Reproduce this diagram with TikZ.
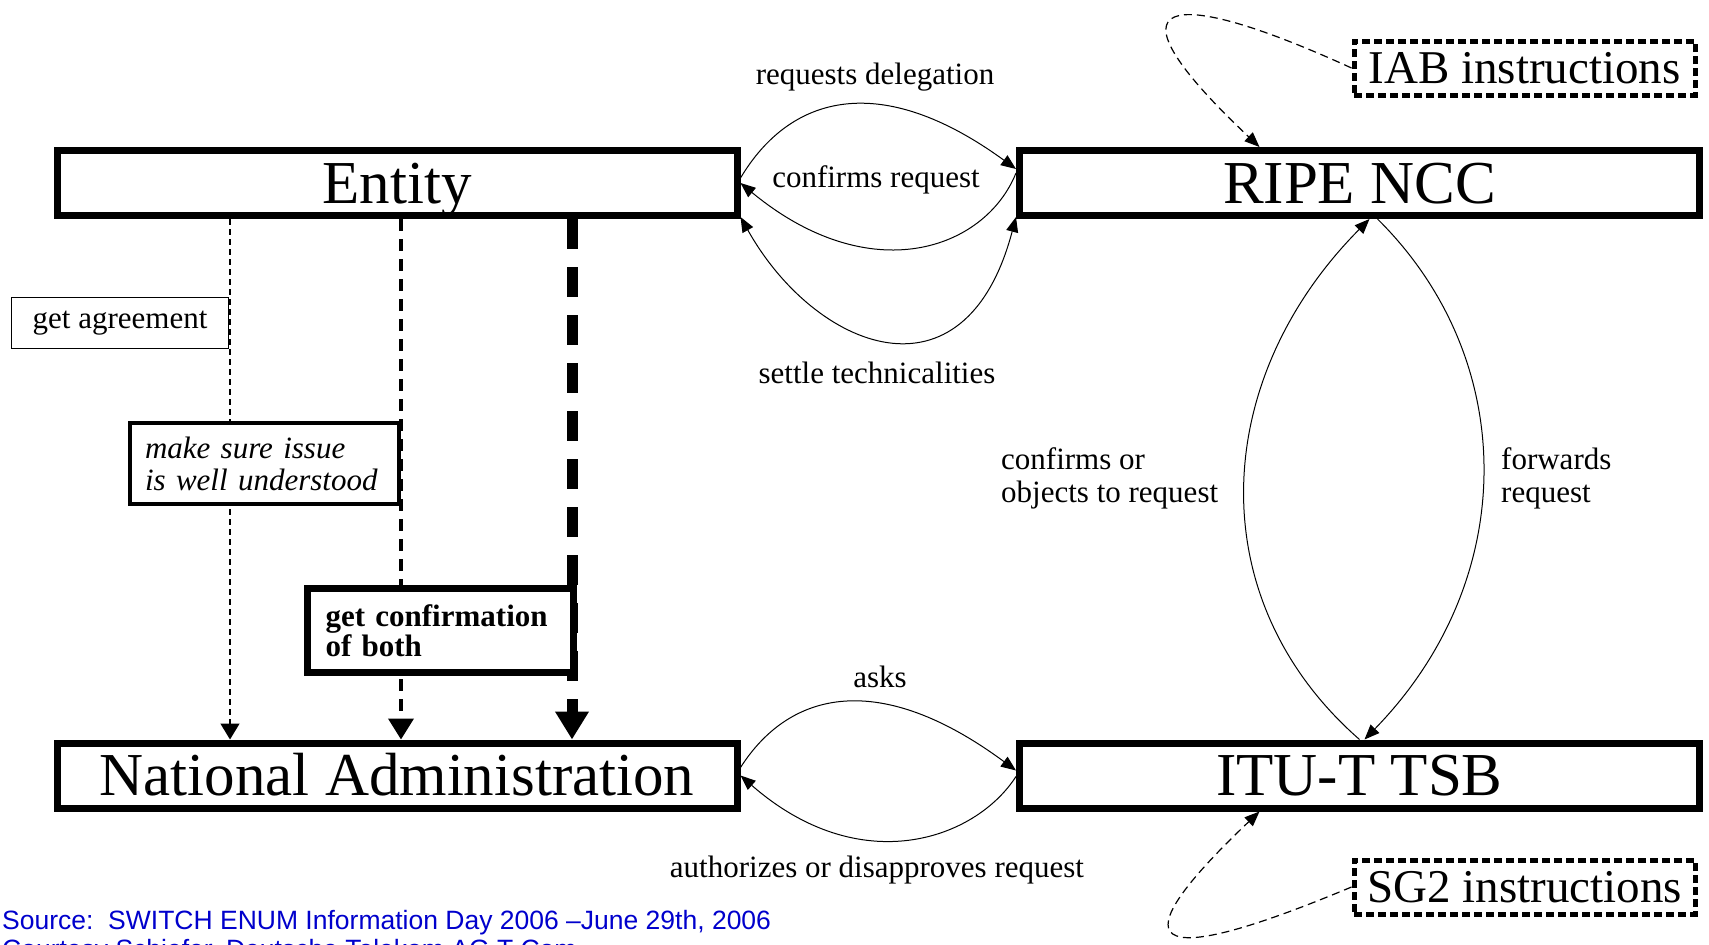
\documentclass[tikz,border=0pt]{standalone}
\usepackage{fontspec}
\setmainfont{Liberation Serif}
\newfontfamily\footfont{Liberation Sans}
\usetikzlibrary{arrows.meta,calc}
\definecolor{footblue}{RGB}{0,0,204}
\tikzset{
  bigbox/.style={draw, fill=white, line width=7pt, minimum width=680pt, minimum height=65pt, inner sep=0pt, text height=49pt, text depth=9pt, font=\fontsize{61}{66}\selectfont},
  lbl/.style={font=\fontsize{31}{33}\selectfont, inner sep=0pt},
  flow/.style={line width=1pt, -{Triangle[length=15pt,width=12pt]}},
  twoflow/.style={line width=1pt, {Triangle[length=15pt,width=12pt]}-{Triangle[length=15pt,width=12pt]}},
  instrline/.style={line width=1.2pt, dash pattern=on 8pt off 5pt, -{Triangle[length=15pt,width=12pt]}},
  instr/.style={draw, fill=white, line width=5pt, dash pattern=on 8pt off 4pt, minimum width=341pt, minimum height=54pt, inner sep=0pt, font=\fontsize{47}{50}\selectfont},
  thinstep/.style={line width=1.5pt, dash pattern=on 6pt off 4pt, -{Triangle[length=16pt,width=19pt]}},
  midstep/.style={line width=4pt, dash pattern=on 12pt off 8pt, -{Triangle[length=21pt,width=25pt]}},
  thickstep/.style={line width=11pt, dash pattern=on 30pt off 18pt, -{Triangle[length=28pt,width=32pt]}},
}
\begin{document}
\begin{tikzpicture}[x=1pt,y=-1pt]
\useasboundingbox (0,0) rectangle (1709,945);
\clip (0,0) rectangle (1709,945);
% main boxes
\node[bigbox] (entity) at (397,183) {Entity};
\node[bigbox] (ripe) at (1359.5,183) {RIPE NCC};
\node[bigbox] (natadmin) at (397,775.5) {National Administration};
\node[bigbox] (itu) at (1359.5,775.5) {ITU-T TSB};
% instruction boxes
\node[instr] (iab) at (1524.5,68) {IAB instructions};
\node[instr] (sg2) at (1524.5,887) {SG2 instructions};
% dashed steps
\coordinate (xthin) at (230,0);
\coordinate (xmid) at (401,0);
\coordinate (xthick) at (572,0);
\draw[thinstep] (entity.south -| xthin) -- (natadmin.north -| xthin);
\draw[midstep] (entity.south -| xmid) -- (natadmin.north -| xmid);
\draw[thickstep] (entity.south -| xthick) -- (natadmin.north -| xthick);
\node[draw, fill=white, line width=1.5pt, minimum width=217pt, minimum height=51pt, font=\fontsize{31}{33}\selectfont] (agree) at (120,323) {get agreement};
\node[draw, fill=white, line width=4pt, minimum height=81pt, text width=239pt, inner xsep=15pt, align=left, font=\fontsize{31}{32}\selectfont\itshape] (sure) at (264.5,463.5) {\mbox{make sure issue}\\\mbox{is well understood}};
\node[draw, fill=white, line width=7pt, minimum height=84pt, text width=230pt, inner xsep=18pt, align=left, font=\fontsize{31}{30}\selectfont\bfseries] (conf) at (440.5,630.5) {\mbox{get confirmation}\\\mbox{of both}};
% entity <-> ripe
\draw[flow] ([yshift=5pt]entity.east) .. controls (790,95) and (880,70) .. ([yshift=14pt]ripe.west);
\draw[flow] ([yshift=10pt]ripe.west) .. controls (985,250) and (870,290) .. (entity.east);
\draw[twoflow] ([yshift=2pt]entity.south east) .. controls (815,350) and (965,410) .. ([yshift=2pt]ripe.south west);
\node[lbl] (reqdel) at (875,77) {requests delegation};
\node[lbl] (confreq) at (876,180) {confirms request};
\node[lbl] (settle) at (877,373) {settle technicalities};
% ripe <-> itu
\draw[flow] (itu.north) .. controls (1200,600) and (1210,380) .. ([xshift=10pt]ripe.south);
\draw[flow] ([xshift=18pt]ripe.south) .. controls (1520,360) and (1520,580) .. ([xshift=5pt]itu.north);
\node[lbl, align=left, anchor=west] (confobj) at (1001,478) {confirms or\\objects to request};
\node[lbl, align=left, anchor=west] (fwd) at (1501,478) {forwards\\request};
% natadmin <-> itu
\draw[flow] ([yshift=8pt]natadmin.east) .. controls (790,690) and (880,670) .. ([yshift=5pt]itu.west);
\draw[flow] ([yshift=-1pt]itu.west) .. controls (975,840) and (860,880) .. (natadmin.east);
\node[lbl] (asks) at (880,677) {asks};
\node[lbl] (auth) at (877,870) {authorizes or disapproves request};
% instructions
\draw[instrline] (iab.west) .. controls (1170,-15) and (1095,-8) .. ([xshift=-100pt]ripe.north);
\draw[instrline] (sg2.west) .. controls (1170,963) and (1100,963) .. ([xshift=-100pt]itu.south);
% footer
\node[anchor=base west, inner sep=0pt, text=footblue, font=\footfont\fontsize{26.5}{30}\selectfont] (src) at (2,929) {Source:\ \ SWITCH ENUM Information Day 2006 –June 29th, 2006};
\node[anchor=base west, inner sep=0pt, text=footblue, font=\footfont\fontsize{26.5}{30}\selectfont] (court) at (2,958) {Courtesy Schiefer, Deutsche Telekom AG T-Com};
\end{tikzpicture}
\end{document}
